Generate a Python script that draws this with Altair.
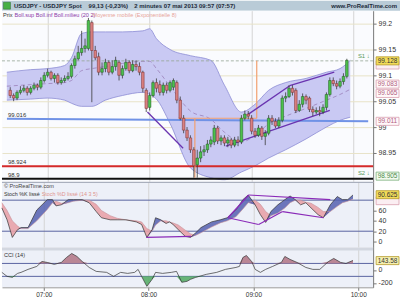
import altair as alt
import pandas as pd

FONT = "Liberation Sans"
W = 373
X_DOMAIN = [-23.92, 188.54]          # minutes relative to 07:00
HOURS = [0, 60, 120, 180]

# ---------------- price candles (2-minute bars, minutes from 07:00) ----------------
candle_t = list(range(-22, 178, 2))
opens = [99.071, 99.061, 99.056, 99.067, 99.071, 99.075, 99.067, 99.075, 99.081, 99.077,
         99.090, 99.100, 99.106, 99.094, 99.100, 99.086, 99.090, 99.094, 99.098, 99.119,
         99.132, 99.144, 99.152, 99.152, 99.202, 99.148, 99.136, 99.106, 99.113, 99.125,
         99.106, 99.117, 99.125, 99.100, 99.113, 99.125, 99.109, 99.121, 99.117, 99.106,
         99.071, 99.038, 99.061, 99.086, 99.082, 99.067, 99.081, 99.071, 99.077, 99.086,
         99.052, 99.017, 98.994, 98.979, 98.956, 98.927, 98.940, 98.952, 98.956, 98.967,
         98.971, 98.998, 98.973, 98.979, 98.969, 98.975, 98.965, 98.975, 98.971, 99.017,
         99.025, 99.017, 98.992, 98.984, 98.998, 98.982, 98.988, 99.017, 99.011, 99.002,
         99.013, 99.056, 99.059, 99.075, 99.071, 99.032, 99.044, 99.059, 99.056, 99.034,
         99.029, 99.032, 99.029, 99.038, 99.063, 99.090, 99.084, 99.079, 99.088, 99.098]
closes = [99.061, 99.056, 99.067, 99.071, 99.075, 99.067, 99.075, 99.081, 99.077, 99.090,
          99.100, 99.106, 99.094, 99.100, 99.086, 99.090, 99.094, 99.098, 99.119, 99.132,
          99.144, 99.152, 99.157, 99.206, 99.148, 99.134, 99.106, 99.113, 99.125, 99.106,
          99.117, 99.129, 99.100, 99.113, 99.125, 99.109, 99.121, 99.117, 99.106, 99.075,
          99.036, 99.061, 99.086, 99.075, 99.067, 99.081, 99.071, 99.086, 99.090, 99.052,
          99.017, 98.994, 98.979, 98.956, 98.925, 98.940, 98.952, 98.956, 98.967, 98.975,
          98.998, 98.973, 98.979, 98.969, 98.975, 98.965, 98.975, 98.971, 99.017, 99.025,
          99.021, 98.992, 98.984, 98.998, 98.982, 98.988, 99.017, 99.011, 99.002, 99.013,
          99.056, 99.059, 99.075, 99.067, 99.032, 99.044, 99.059, 99.052, 99.034, 99.029,
          99.032, 99.029, 99.038, 99.063, 99.090, 99.084, 99.079, 99.088, 99.098, 99.129]
highs = [99.077, 99.065, 99.071, 99.079, 99.081, 99.079, 99.079, 99.086, 99.084, 99.096,
         99.106, 99.113, 99.109, 99.104, 99.104, 99.096, 99.100, 99.106, 99.123, 99.138,
         99.157, 99.186, 99.171, 99.211, 99.206, 99.157, 99.144, 99.125, 99.132, 99.129,
         99.129, 99.136, 99.129, 99.119, 99.132, 99.129, 99.129, 99.129, 99.125, 99.109,
         99.075, 99.067, 99.090, 99.094, 99.090, 99.086, 99.086, 99.090, 99.094, 99.090,
         99.059, 99.023, 99.000, 98.984, 98.961, 98.956, 98.963, 98.965, 98.975, 98.982,
         99.004, 99.002, 98.984, 98.984, 98.981, 98.979, 98.981, 98.982, 99.023, 99.032,
         99.031, 99.023, 98.998, 99.004, 99.002, 98.994, 99.023, 99.023, 99.017, 99.019,
         99.061, 99.067, 99.081, 99.081, 99.075, 99.052, 99.065, 99.063, 99.059, 99.040,
         99.038, 99.040, 99.044, 99.067, 99.096, 99.096, 99.090, 99.094, 99.104, 99.132]
lows = [99.056, 99.050, 99.052, 99.063, 99.067, 99.061, 99.063, 99.071, 99.071, 99.073,
        99.086, 99.096, 99.090, 99.086, 99.082, 99.082, 99.086, 99.090, 99.094, 99.113,
        99.129, 99.138, 99.144, 99.148, 99.048, 99.129, 99.100, 99.100, 99.106, 99.100,
        99.102, 99.109, 99.090, 99.094, 99.109, 99.104, 99.106, 99.109, 99.100, 99.067,
        99.029, 99.032, 99.057, 99.067, 99.061, 99.061, 99.065, 99.067, 99.071, 99.046,
        99.013, 98.988, 98.973, 98.950, 98.902, 98.902, 98.932, 98.944, 98.950, 98.961,
        98.965, 98.967, 98.965, 98.963, 98.961, 98.959, 98.961, 98.963, 98.967, 99.013,
        99.015, 98.986, 98.979, 98.981, 98.975, 98.965, 98.984, 99.004, 98.998, 98.998,
        99.009, 99.048, 99.056, 99.061, 99.027, 99.029, 99.038, 99.044, 99.029, 99.021,
        99.025, 99.021, 99.025, 99.032, 99.059, 99.079, 99.073, 99.075, 99.082, 99.094]

# ---------------- Bollinger (20,2) ----------------
band_t = [-24, -10, 0, 10, 14, 20, 26, 34, 44, 56, 60, 64, 72, 84, 96, 104, 114, 122, 130, 140, 152, 164, 172, 178]
boll_up = [99.106, 99.111, 99.113, 99.119, 99.134, 99.181, 99.184, 99.184, 99.184, 99.186, 99.190, 99.171,
           99.150, 99.138, 99.129, 99.081, 99.029, 99.044, 99.071, 99.086, 99.094, 99.106, 99.113, 99.129]
boll_lo = [99.052, 99.054, 99.056, 99.052, 99.046, 99.040, 99.040, 99.052, 99.061, 99.067, 99.063, 99.054,
           99.007, 98.921, 98.902, 98.898, 98.913, 98.925, 98.940, 98.956, 98.977, 99.000, 99.013, 99.019]
boll_mid = [99.079, 99.082, 99.084, 99.086, 99.090, 99.109, 99.113, 99.117, 99.123, 99.127, 99.127, 99.113,
            99.079, 99.031, 99.015, 98.990, 98.971, 98.984, 99.006, 99.021, 99.036, 99.052, 99.063, 99.073]

# ---------------- Stochastic (14 3 5) ----------------
stoch_t = [-24, -21, -18, -15, -13, -9, -4, 2, 5, 7, 10, 14, 17, 22, 26, 30, 33, 38, 42, 47, 53, 56, 59, 62, 64,
           67, 70, 72, 74, 77, 81, 84, 87, 90, 96, 101, 105, 110, 114, 117, 121, 124, 127, 130, 134, 138, 141,
           144, 147, 150, 153, 157, 160, 164, 168, 171, 174, 177]
stoch_k = [65, 42, 8, 23, 27, 27, 61, 81, 81, 69, 71, 81, 81, 81, 75, 58, 46, 42, 42, 42, 38, 33, 8, 23, 46,
           42, 35, 38, 33, 23, 10, 8, 17, 27, 38, 42, 46, 61, 81, 90, 71, 52, 37, 58, 71, 81, 88,
           81, 71, 75, 65, 52, 46, 71, 87, 81, 81, 90]
stoch_d = [75, 60, 40, 30, 25, 25, 40, 62, 75, 78, 74, 75, 78, 80, 80, 72, 60, 50, 45, 42, 40, 38, 25, 20, 32,
           40, 40, 38, 36, 32, 22, 15, 12, 17, 28, 36, 40, 48, 63, 75, 80, 72, 58, 50, 55, 65, 75,
           80, 80, 76, 74, 66, 58, 58, 68, 75, 78, 82]

# ---------------- CCI (14) ----------------
cci_t = [-24, -21, -18, -15, -13, -9, -4, -1, 2, 6, 10, 13, 16, 19, 22, 26, 30, 36, 40, 44, 48, 52, 54, 56, 59,
         62, 64, 68, 73, 76, 79, 82, 84, 87, 93, 99, 104, 110, 112, 114, 116, 119, 121, 124, 127, 131, 136,
         138, 141, 145, 150, 154, 158, 163, 166, 170, 173, 177]
cci_v = [-38, -100, -115, -54, -38, 8, 54, 130, 115, 85, 115, 192, 254, 208, 130, 38, -23, -38, -100, -38,
         -54, -38, 8, -100, -254, -146, -38, -54, -38, -23, -192, -177, -146, -115, -69, -38, 8, 38, 54, 192,
         223, 130, 8, -38, 8, 54, 115, 208, 162, 115, 38, 8, 8, 130, 177, 115, 100, 146]

# ---------------- levels / drawn objects ----------------
last_price = 99.128
red_level = 98.924
black_level = 98.9
blue_level = [99.016, 99.011]
left_labels = ["99.016", "98.924", "98.9"]
left_label_vals = [99.016, 98.924, 98.9]
orange_segs = [(123.0, 99.128, 123.0, 99.017), (76.9, 99.017, 123.0, 99.017), (86.6, 99.017, 86.6, 98.902)]
price_trend = [(58.7, 99.029, 79.7, 98.959), (117.3, 99.023, 142.4, 99.080),
               (142.4, 99.080, 168.6, 99.106), (104.8, 98.963, 166.0, 99.032)]
stoch_trend = [(58.7, 8, 84.3, 10), (105.4, 46, 117.3, 90), (117.3, 90, 164.0, 81),
               (105.4, 46, 123.0, 33), (123.0, 33, 136.7, 58), (136.7, 58, 160.1, 46)]
price_tick_vals = [98.95, 99.0, 99.05, 99.1, 99.15, 99.2]
box_vals = [99.120, 99.128, 99.083, 99.065, 99.011, 98.905]
box_text = ["", "99.128", "99.083", "99.065", "99.011", "98.905"]
box_fill = ["#fbeef2", "#f2dc5a", "#fff8f9", "#fff8f9", "#fff8f9", "#f3faef"]
box_stroke = ["#d9a0b0", "#b49a2a", "#d9a0b0", "#d9a0b0", "#d9a0b0", "#7ab07a"]
box_tcol = ["#c07090", "#333333", "#b06080", "#b06080", "#b06080", "#4a8a4a"]

# ================= helpers =================
xs = alt.Scale(domain=X_DOMAIN, nice=False, zero=False)
xgrid = alt.Axis(values=HOURS, grid=True, gridColor="#d4d4d4", labels=False, ticks=False, domain=False, title=None)


def ax_right(values, grid=False, gridColor="#e8e3c8"):
    return alt.Axis(orient="right", values=values, labelExpr="'' + datum.value", grid=grid, gridColor=gridColor,
                    tickSize=3, tickColor="#777", domainColor="#777", labelFontSize=7, labelColor="#333",
                    labelPadding=2, labelFont=FONT, title=None)


def mk_xy(yscale, yaxis):
    def X(f):
        return alt.X(f, type="quantitative", scale=xs, axis=xgrid)

    def Y(f):
        return alt.Y(f, type="quantitative", scale=yscale, axis=yaxis)
    return X, Y


def txt(s, x, y, color="#333", size=5.6, weight="normal", align="left"):
    return alt.Chart(pd.DataFrame({"s": [s]})).mark_text(
        align=align, baseline="middle", fontSize=size, font=FONT, color=color, fontWeight=weight
    ).encode(x=alt.value(x), y=alt.value(y), text="s:N")


def seg_df(segs):
    return pd.DataFrame(segs, columns=["t1", "v1", "t2", "v2"])


# ================= header =================
one = pd.DataFrame({"a": [0]})
header = alt.layer(
    alt.Chart(one).mark_rect(color="#b9cbd7").encode(x=alt.value(0), x2=alt.value(400), y=alt.value(0), y2=alt.value(10)),
    alt.Chart(one).mark_rect(color="#46b046", stroke="#2a6a2a", strokeWidth=0.5).encode(
        x=alt.value(1.5), x2=alt.value(8.5), y=alt.value(1.5), y2=alt.value(8.5)),
    txt("USDJPY - USDJPY Spot", 12, 5, "#1c2a3a", 6, "bold"),
    txt("99,13 (-0,23%)", 87, 5, "#1c2a3a", 6, "bold"),
    txt("2 minutes  07 mai 2013 09:57 (07:57)", 133, 5, "#1c2a3a", 6, "bold"),
    txt("www.ProRealTime.com", 397, 5, "#1c2a3a", 6, "bold", "right"),
).properties(width=W, height=10, view=alt.ViewBackground(stroke=None))

# ================= price panel =================
ps = alt.Scale(domain=[98.894, 99.225], nice=False, zero=False)
PX, PY = mk_xy(ps, ax_right(price_tick_vals, grid=True))

band_df = pd.DataFrame({"t": band_t, "up": boll_up, "lo": boll_lo, "mid": boll_mid})
cdf = pd.DataFrame({"t": candle_t, "o": opens, "h": highs, "l": lows, "c": closes})
cdf["dir"] = ["up" if c >= o else "down" for o, c in zip(opens, closes)]

band_area = alt.Chart(band_df).mark_area(color="#c9c9f3", opacity=1, interpolate="monotone").encode(
    x=PX("t"), y=PY("up"), y2="lo")
band_up = alt.Chart(band_df).mark_line(color="#8c8cd4", strokeWidth=0.8, interpolate="monotone").encode(x=PX("t"), y=PY("up"))
band_lo = alt.Chart(band_df).mark_line(color="#8c8cd4", strokeWidth=0.8, interpolate="monotone").encode(x=PX("t"), y=PY("lo"))
band_mid = alt.Chart(band_df).mark_line(color="#9a80b8", strokeWidth=0.8, strokeDash=[4, 3], interpolate="monotone").encode(
    x=PX("t"), y=PY("mid"))

lvl_df = pd.DataFrame({"v": [last_price]})
last_line = alt.Chart(lvl_df).mark_rule(color="#94a494", strokeDash=[3, 2], strokeWidth=0.8).encode(y=PY("v"))
red_line = alt.Chart(pd.DataFrame({"v": [red_level]})).mark_rule(color="#d42a2a", strokeWidth=2).encode(y=PY("v"))
black_line = alt.Chart(pd.DataFrame({"v": [black_level]})).mark_rule(color="#111111", strokeWidth=2).encode(y=PY("v"))
blue_line = alt.Chart(pd.DataFrame({"t1": [X_DOMAIN[0]], "t2": [X_DOMAIN[1]], "v1": [blue_level[0]], "v2": [blue_level[1]]})).mark_rule(
    color="#7092e6", strokeWidth=2).encode(x=PX("t1"), x2="t2", y=PY("v1"), y2="v2")

orange = alt.Chart(seg_df(orange_segs)).mark_rule(color="#f2a070", strokeWidth=1.2).encode(
    x=PX("t1"), x2="t2", y=PY("v1"), y2="v2")
ptrend = alt.Chart(seg_df(price_trend)).mark_rule(color="#6a34b0", strokeWidth=1.3).encode(
    x=PX("t1"), x2="t2", y=PY("v1"), y2="v2")

wicks = alt.Chart(cdf).mark_rule(color="#3a3a3a", strokeWidth=0.8).encode(x=PX("t"), y=PY("l"), y2="h")
bodies = alt.Chart(cdf).mark_bar(size=2.6, strokeWidth=0.5).encode(
    x=PX("t"), y=PY("o"), y2="c",
    fill=alt.Fill("dir:N", scale=alt.Scale(domain=["up", "down"], range=["#4cc04c", "#d98080"]), legend=None),
    stroke=alt.Stroke("dir:N", scale=alt.Scale(domain=["up", "down"], range=["#1f5a1f", "#7a2a2a"]), legend=None))

left_df = pd.DataFrame({"t": [X_DOMAIN[0] + 0.6] * 3, "v": left_label_vals, "s": left_labels})
left_txt = alt.Chart(left_df).mark_text(align="left", baseline="bottom", dy=-1, fontSize=6, font=FONT, color="#333").encode(
    x=PX("t"), y=PY("v"), text="s:N")

s_df = pd.DataFrame({"t": [182.5, 182.5], "v": [99.131, 98.906], "s": ["S1 ↓", "S2 ↓"]})
s_txt = alt.Chart(s_df).mark_text(align="left", baseline="bottom", fontSize=6, font=FONT, color="#5a9a5a").encode(
    x=PX("t"), y=PY("v"), text="s:N")

HALF_P = 0.0078
pbox_df = pd.DataFrame({"v": box_vals, "s": box_text, "f": box_fill, "k": box_stroke, "tc": box_tcol})
pbox = alt.Chart(pbox_df).transform_calculate(a=f"datum.v + {HALF_P}", b=f"datum.v - {HALF_P}").mark_rect(strokeWidth=0.8).encode(
    x=alt.value(376), x2=alt.value(399), y=PY("a"), y2="b",
    fill=alt.Fill("f:N", scale=None), stroke=alt.Stroke("k:N", scale=None))
pbox_t = alt.Chart(pbox_df).mark_text(fontSize=6.5, font=FONT, align="center", baseline="middle").encode(
    x=alt.value(387.5), y=PY("v"), text="s:N", color=alt.Color("tc:N", scale=None))

price = alt.layer(
    band_area, band_up, band_lo, band_mid, last_line, blue_line, red_line, black_line, orange, ptrend,
    wicks, bodies, left_txt, s_txt, pbox, pbox_t,
    txt("Prix", 1, 4, "#333"),
    txt("Boll.sup Boll.inf Boll.milieu (20 2)", 12.5, 4, "#8a3aa8"),
    txt("Moyenne mobile (Exponentielle 8)", 91, 4, "#e7a39a"),
).properties(width=W, height=172, view=alt.ViewBackground(fill="#fafbfe", stroke=None))

# ================= stochastic panel =================
ss = alt.Scale(domain=[-11.5, 115.4], nice=False, zero=False)
SX, SY = mk_xy(ss, ax_right([0, 20, 40, 60]))
sdf = pd.DataFrame({"t": stoch_t, "k": stoch_k, "d": stoch_d})
sbase = alt.Chart(sdf).transform_calculate(lo="min(datum.k, datum.d)")
s_blue = sbase.mark_area(color="#5560b0", opacity=0.85).encode(x=SX("t"), y=SY("k"), y2="lo:Q")
s_pink = sbase.mark_area(color="#e8a2a8", opacity=0.9).encode(x=SX("t"), y=SY("d"), y2="lo:Q")
s_dline = alt.Chart(sdf).mark_line(color="#c89098", strokeWidth=0.6).encode(x=SX("t"), y=SY("d"))
s_kline = alt.Chart(sdf).mark_line(color="#333", strokeWidth=0.7).encode(x=SX("t"), y=SY("k"))
s_lvls = alt.Chart(pd.DataFrame({"v": [20, 80]})).mark_rule(color="#5a64a0", strokeWidth=1).encode(y=SY("v"))
s_tr = alt.Chart(seg_df(stoch_trend)).mark_rule(color="#8a2ab8", strokeWidth=1.2).encode(
    x=SX("t1"), x2="t2", y=SY("v1"), y2="v2")
HALF_S = 7.7
sbox_df = pd.DataFrame({"v": [79.0, 90.625], "s": ["", "90.625"], "f": ["#fbeef2", "#f2dc5a"], "k": ["#d9a0b0", "#b49a2a"]})
sbox = alt.Chart(sbox_df).transform_calculate(a=f"datum.v + {HALF_S}", b=f"datum.v - {HALF_S}").mark_rect(strokeWidth=0.8).encode(
    x=alt.value(376), x2=alt.value(399), y=SY("a"), y2="b", fill=alt.Fill("f:N", scale=None), stroke=alt.Stroke("k:N", scale=None))
sbox_t = alt.Chart(sbox_df).mark_text(fontSize=6.5, font=FONT, color="#333", baseline="middle").encode(
    x=alt.value(387.5), y=SY("v"), text="s:N")

stoch = alt.layer(
    s_lvls, s_pink, s_blue, s_dline, s_kline, s_tr, sbox, sbox_t,
    alt.Chart(one).mark_rule(color="#9aa0b0", strokeWidth=1).encode(x=alt.value(0), x2=alt.value(W), y=alt.value(0.5)),
    txt("© ProRealTime.com", 2, 4.5, "#444"),
    txt("Stoch %K lissé", 2, 12, "#333", 5.4),
    txt("Stoch %D lissé (14 3 5)", 40, 12, "#e0958e", 5.4),
).properties(width=W, height=66, view=alt.ViewBackground(fill="#edf0f8", stroke=None))

# ================= CCI panel =================
cs = alt.Scale(domain=[-269, 346], nice=False, zero=False)
cci_xaxis = alt.Axis(values=HOURS, labelExpr="['07:00','08:00','09:00','10:00'][datum.value / 60]",
                     grid=True, gridColor="#d4d4d4", tickSize=3, tickColor="#777", domainColor="#999",
                     labelFontSize=6.5, labelColor="#333", labelFont=FONT, labelPadding=1, title=None)


def CX(f):
    return alt.X(f, type="quantitative", scale=xs, axis=cci_xaxis)


def CY(f):
    return alt.Y(f, type="quantitative", scale=cs, axis=ax_right([-200, 0]))


cdf2 = pd.DataFrame({"t": cci_t, "v": cci_v})
cbase = alt.Chart(cdf2).transform_calculate(hi="max(datum.v, 100)", lo="min(datum.v, -100)", p="100", m="-100")
c_hi = cbase.mark_area(color="#b47a8a", opacity=0.9).encode(x=CX("t"), y=CY("hi"), y2="p:Q")
c_lo = cbase.mark_area(color="#58ad68", opacity=0.9).encode(x=CX("t"), y=CY("lo"), y2="m:Q")
c_line = alt.Chart(cdf2).mark_line(color="#333", strokeWidth=0.7).encode(x=CX("t"), y=CY("v"))
c_lvls = alt.Chart(pd.DataFrame({"v": [100, -100]})).mark_rule(color="#5a64a0", strokeWidth=1).encode(y=CY("v"))
HALF_C = 62
cbox_df = pd.DataFrame({"v": [143.58], "s": ["143.58"]})
cbox = alt.Chart(cbox_df).transform_calculate(a=f"datum.v + {HALF_C}", b=f"datum.v - {HALF_C}").mark_rect(
    fill="#f6f0b0", stroke="#b49a2a", strokeWidth=0.8).encode(x=alt.value(376), x2=alt.value(399), y=CY("a"), y2="b")
cbox_t = alt.Chart(cbox_df).mark_text(fontSize=6.5, font=FONT, color="#333", baseline="middle").encode(
    x=alt.value(387.5), y=CY("v"), text="s:N")

cci = alt.layer(
    c_lvls, c_hi, c_lo, c_line, cbox, cbox_t,
    alt.Chart(one).mark_rect(color="#d3d7e0").encode(x=alt.value(0), x2=alt.value(W), y=alt.value(0), y2=alt.value(3)),
    txt("CCI (14)", 2, 8, "#333"),
).properties(width=W, height=40, view=alt.ViewBackground(fill="#edf0f8", stroke=None))

chart = alt.vconcat(header, price, stoch, cci, spacing=0, bounds="flush").resolve_scale(
    x="independent", y="independent").properties(padding=0, background="white").configure_view(stroke=None)

chart.save("out.html", embed_options={"renderer": "svg", "actions": False})
